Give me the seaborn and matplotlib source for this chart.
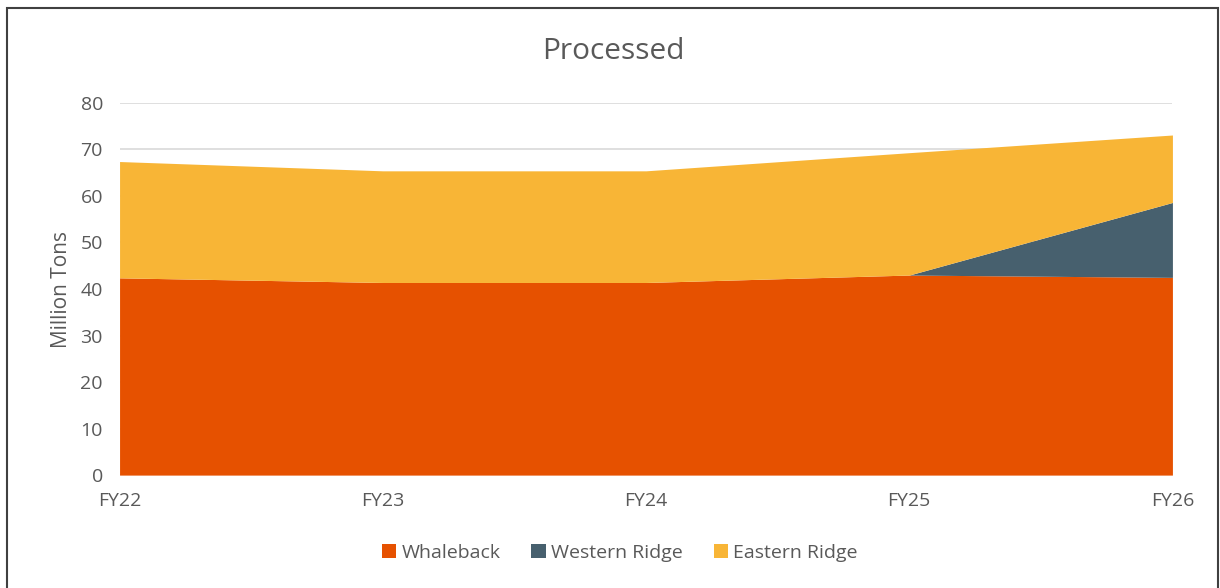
import matplotlib
matplotlib.use("Agg")
import matplotlib.pyplot as plt
import seaborn as sns
import numpy as np
from matplotlib.patches import Rectangle

years = ["FY22", "FY23", "FY24", "FY25", "FY26"]
whaleback = [42.4, 41.4, 41.4, 43.0, 42.5]
western_ridge = [0.0, 0.0, 0.0, 0.0, 16.1]
eastern_ridge = [25.0, 24.0, 24.0, 26.3, 14.5]
series_names = ["Whaleback", "Western Ridge", "Eastern Ridge"]
colors = ["#E65100", "#47606E", "#F8B536"]

sns.set_theme(style="white")
plt.rcParams["font.family"] = ["Open Sans", "DejaVu Sans"]

fig = plt.figure(figsize=(12.2, 5.88), dpi=100)
ax = fig.add_axes([0.098, 0.192, 0.863, 0.633])

x = np.arange(len(years))
ax.stackplot(x, whaleback, western_ridge, eastern_ridge, colors=colors,
             labels=series_names, zorder=2, linewidth=0)

ax.set_xlim(0, len(years) - 1)
ax.set_ylim(0, 80)
ax.set_yticks(range(0, 81, 10))
ax.set_xticks(x)
ax.set_xticklabels(years)
ax.yaxis.grid(True, color="#D9D9D9", linewidth=1.2, zorder=0)
ax.xaxis.grid(False)
for s in ax.spines.values():
    s.set_visible(False)
ax.tick_params(axis="both", colors="#595959", labelsize=14, length=0)
ax.tick_params(axis="x", pad=12)
ax.tick_params(axis="y", pad=12)
ax.set_ylabel("Million Tons", fontsize=15, color="#595959", labelpad=6)
fig.text(0.503, 0.913, "Processed", ha="center", va="center",
         fontsize=21.5, color="#595959")

handles, labels = ax.get_legend_handles_labels()
leg = fig.legend(handles, labels, loc="center", bbox_to_anchor=(0.508, 0.06),
                 ncol=3, frameon=False, fontsize=14, handlelength=0.75,
                 handleheight=0.75, handletextpad=0.25, columnspacing=1.6)
for t in leg.get_texts():
    t.set_color("#595959")

fig.patches.append(Rectangle((0.006, -0.01), 0.992, 0.996, transform=fig.transFigure,
                             fill=False, edgecolor="#404040", linewidth=1.5))

fig.savefig("out.png", dpi=100)
